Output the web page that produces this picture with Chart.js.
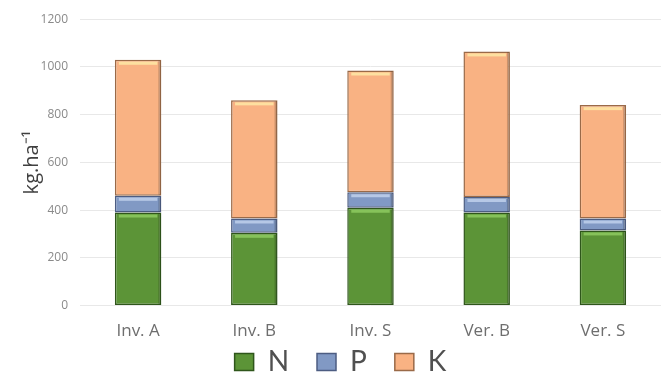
<!DOCTYPE html>
<html>
<head>
<meta charset="utf-8">
<script src="https://cdn.jsdelivr.net/npm/chart.js@4/dist/chart.umd.min.js"></script>
<style>
  html, body { margin: 0; padding: 0; background: #fff; }
  #wrap { width: 667px; height: 381px; position: relative; }
</style>
</head>
<body>
<div id="wrap"><canvas id="npkChart"></canvas></div>
<script>
const categories = ['Inv. A', 'Inv. B', 'Inv. S', 'Ver. B', 'Ver. S'];
const nValues = [390, 305, 410, 390, 315];
const pValues = [70, 60, 65, 65, 50];
const kValues = [570, 495, 510, 610, 475];
const yTicks = [0, 200, 400, 600, 800, 1000, 1200];

// light stripe along the top of each segment, like the bevelled bars of the original
const bevel = {
    id: 'bevel',
    afterDatasetsDraw(chart) {
        const c = chart.ctx;
        chart.data.datasets.forEach((d, i) => {
            chart.getDatasetMeta(i).data.forEach(bar => {
                const p = bar.getProps(['x', 'y', 'base', 'width']);
                const left = p.x - p.width / 2;
                c.save();
                c.fillStyle = d.highlight;
                c.fillRect(left + 4, p.y + 2, p.width - 8, 3);
                c.fillStyle = 'rgba(0,0,0,0.18)';
                c.fillRect(p.x + p.width / 2 - 3, p.y + 1, 2, p.base - p.y - 2);
                c.restore();
            });
        });
    }
};

function ds(label, data, fill, border, highlight) {
    return {
        label: label,
        data: data,
        backgroundColor: fill,
        borderColor: border,
        highlight: highlight,
        borderWidth: 1.5,
        borderSkipped: false,
        barPercentage: 0.4,
        categoryPercentage: 1.0
    };
}

const ctx = document.getElementById('npkChart').getContext('2d');
const chart = new Chart(ctx, {
    type: 'bar',
    data: {
        labels: categories,
        datasets: [
            ds('N', nValues, '#5c9437', '#2f561b', '#86c25a'),
            ds('P', pValues, '#8199c4', '#4d5d82', '#b6c8e6'),
            ds('K', kValues, '#f9b283', '#9a6a48', '#fde0a0')
        ]
    },
    plugins: [bevel],
    options: {
        responsive: true,
        maintainAspectRatio: false,
        animation: false,
        layout: { padding: { left: 20, right: 6, top: 16, bottom: 0 } },
        plugins: {
            tooltip: { enabled: false },
            legend: {
                position: 'bottom',
                maxHeight: 33,
                labels: {
                    color: '#505050',
                    font: { family: 'Lato', size: 28, lineHeight: 1 },
                    boxWidth: 19,
                    boxHeight: 17,
                    padding: 0,
                    // a little air after N and P, as in the original legend
                    generateLabels: chart => {
                        const items = Chart.defaults.plugins.legend.labels.generateLabels(chart);
                        items.forEach((it, i) => {
                            if (i < items.length - 1) it.text += '\u2002\u2002';
                        });
                        return items;
                    }
                }
            }
        },
        scales: {
            x: {
                stacked: true,
                grid: { display: false },
                border: { display: false },
                ticks: { color: '#6e6e6e', font: { family: 'Open Sans', size: 17 }, padding: 7 }
            },
            y: {
                stacked: true,
                min: 0,
                max: 1200,
                afterBuildTicks: axis => { axis.ticks = yTicks.map(v => ({ value: v })); },
                afterFit: axis => { axis.width = 60; },
                grid: { color: '#e8e8e8', drawTicks: false },
                border: { display: false },
                ticks: {
                    color: '#8a8a8a',
                    font: { family: 'Open Sans', size: 12 },
                    padding: 12,
                    callback: v => String(v)
                },
                title: {
                    display: true,
                    text: 'kg.ha\u207B\u00B9',
                    color: '#404040',
                    font: { family: 'Open Sans', size: 20 },
                    padding: 0
                }
            }
        }
    }
});
</script>
</body>
</html>
